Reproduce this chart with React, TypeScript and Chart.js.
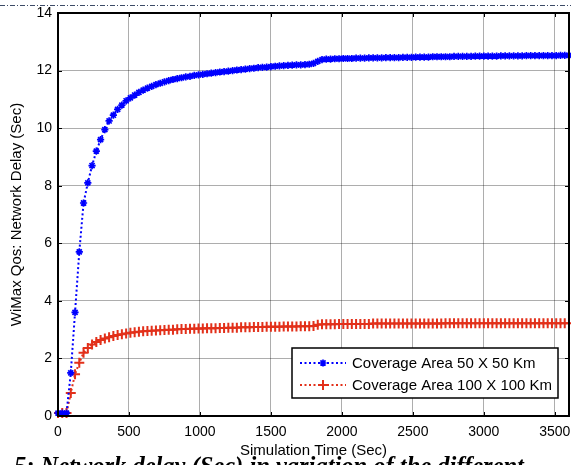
import React, { useEffect, useRef } from "react";
import { Chart, registerables } from "chart.js";

Chart.register(...registerables);

// Simulation time samples (sec)
const timeStepSec = 30;
const sampleCount = 121;
const times: number[] = Array.from({ length: sampleCount }, (_, i) => i * timeStepSec);

const xTickValues: number[] = [0, 500, 1000, 1500, 2000, 2500, 3000, 3500];
const yTickValues: number[] = [0, 2, 4, 6, 8, 10, 12, 14];
const xMax = 3600;
const yMax = 14;

const blueLabel = "Coverage Area 50 X 50 Km";
const redLabel = "Coverage Area 100 X 100 Km";

// WiMax network delay (sec), coverage 50 x 50 km
const blueValues: number[] = [
  0.1, 0.1, 0.1, 1.5, 3.6, 5.7, 7.4, 8.1, 8.7, 9.2,
  9.6, 9.95, 10.25, 10.45, 10.65, 10.8, 10.95, 11.05, 11.15, 11.24,
  11.32, 11.39, 11.45, 11.51, 11.56, 11.61, 11.65, 11.69, 11.72, 11.75,
  11.78, 11.8, 11.83, 11.85, 11.87, 11.89, 11.91, 11.93, 11.95, 11.96,
  11.98, 12.0, 12.02, 12.03, 12.05, 12.07, 12.08, 12.1, 12.11, 12.12,
  12.14, 12.15, 12.16, 12.17, 12.18, 12.19, 12.2, 12.2, 12.21, 12.22,
  12.25, 12.32, 12.38, 12.4, 12.4, 12.41, 12.41, 12.42, 12.42, 12.42,
  12.43, 12.43, 12.43, 12.44, 12.44, 12.44, 12.44, 12.45, 12.45, 12.45,
  12.45, 12.46, 12.46, 12.46, 12.47, 12.47, 12.47, 12.47, 12.48, 12.48,
  12.48, 12.48, 12.48, 12.49, 12.49, 12.49, 12.49, 12.49, 12.5, 12.5,
  12.5, 12.5, 12.5, 12.5, 12.51, 12.51, 12.51, 12.51, 12.51, 12.51,
  12.52, 12.52, 12.52, 12.52, 12.52, 12.52, 12.52, 12.52, 12.53, 12.53,
  12.53,
];

// WiMax network delay (sec), coverage 100 x 100 km
const redValues: number[] = [
  0.1, 0.1, 0.1, 0.8, 1.45, 1.85, 2.2, 2.36, 2.48, 2.57,
  2.64, 2.69, 2.74, 2.78, 2.81, 2.84, 2.87, 2.89, 2.91, 2.93,
  2.94, 2.95, 2.96, 2.97, 2.98, 2.99, 3.0, 3.0, 3.01, 3.02,
  3.02, 3.03, 3.03, 3.04, 3.04, 3.05, 3.05, 3.05, 3.06, 3.06,
  3.07, 3.07, 3.07, 3.08, 3.08, 3.08, 3.09, 3.09, 3.09, 3.1,
  3.1, 3.1, 3.1, 3.11, 3.11, 3.11, 3.11, 3.12, 3.12, 3.12,
  3.13, 3.17, 3.19, 3.19, 3.19, 3.19, 3.2, 3.2, 3.2, 3.2,
  3.2, 3.2, 3.2, 3.2, 3.21, 3.21, 3.21, 3.21, 3.21, 3.21,
  3.21, 3.21, 3.21, 3.21, 3.21, 3.21, 3.21, 3.21, 3.21, 3.21,
  3.21, 3.22, 3.22, 3.22, 3.22, 3.22, 3.22, 3.22, 3.22, 3.22,
  3.22, 3.22, 3.22, 3.22, 3.22, 3.22, 3.22, 3.22, 3.22, 3.22,
  3.22, 3.22, 3.22, 3.22, 3.22, 3.22, 3.22, 3.22, 3.22, 3.22,
  3.22,
];

const captionText = "5: Network delay (Sec) in variation of the different";

const W = 571;
const H = 465;
const sans = "'Liberation Sans', Arial, sans-serif";

function drawMarker(ctx: CanvasRenderingContext2D, style: string, x: number, y: number, r: number, color: string, w: number) {
  ctx.save();
  ctx.strokeStyle = color;
  ctx.lineWidth = w;
  ctx.beginPath();
  if (style === "cross" || style === "star") {
    ctx.moveTo(x - r, y);
    ctx.lineTo(x + r, y);
    ctx.moveTo(x, y - r);
    ctx.lineTo(x, y + r);
  }
  if (style === "crossRot" || style === "star") {
    const d = r * Math.SQRT1_2;
    ctx.moveTo(x - d, y - d);
    ctx.lineTo(x + d, y + d);
    ctx.moveTo(x - d, y + d);
    ctx.lineTo(x + d, y - d);
  }
  ctx.stroke();
  ctx.restore();
}

const frame = {
  id: "matlabFrame",
  afterDraw(chart: any) {
    const { ctx, chartArea: a, scales } = chart;
    ctx.save();
    // document rule at the very top
    ctx.strokeStyle = "#3c4a66";
    ctx.lineWidth = 1;
    ctx.setLineDash([5, 2, 1, 2]);
    ctx.beginPath();
    ctx.moveTo(0, 5.5);
    ctx.lineTo(W, 5.5);
    ctx.stroke();
    ctx.setLineDash([]);

    // inward tick marks
    ctx.strokeStyle = "#000";
    ctx.lineWidth = 1;
    const tl = 4;
    scales.x.ticks.forEach((t: any) => {
      const px = Math.round(scales.x.getPixelForValue(t.value)) + 0.5;
      ctx.beginPath();
      ctx.moveTo(px, a.bottom);
      ctx.lineTo(px, a.bottom - tl);
      ctx.moveTo(px, a.top);
      ctx.lineTo(px, a.top + tl);
      ctx.stroke();
    });
    scales.y.ticks.forEach((t: any) => {
      const py = Math.round(scales.y.getPixelForValue(t.value)) + 0.5;
      ctx.beginPath();
      ctx.moveTo(a.left, py);
      ctx.lineTo(a.left + tl, py);
      ctx.moveTo(a.right, py);
      ctx.lineTo(a.right - tl, py);
      ctx.stroke();
    });

    // box
    ctx.lineWidth = 2;
    ctx.strokeRect(a.left, a.top, a.right - a.left, a.bottom - a.top);

    // legend
    const lx = 292, ly = 348, lw = 266, lh = 50;
    ctx.fillStyle = "#fff";
    ctx.fillRect(lx, ly, lw, lh);
    ctx.lineWidth = 1.5;
    ctx.strokeStyle = "#000";
    ctx.strokeRect(lx, ly, lw, lh);
    ctx.font = `15px ${sans}`;
    ctx.textBaseline = "middle";
    ctx.textAlign = "left";
    chart.data.datasets.forEach((ds: any, i: number) => {
      const cy = ly + 15 + i * 22;
      ctx.strokeStyle = ds.borderColor;
      ctx.lineWidth = ds.borderWidth;
      ctx.setLineDash(ds.borderDash);
      ctx.beginPath();
      ctx.moveTo(lx + 8, cy);
      ctx.lineTo(lx + 54, cy);
      ctx.stroke();
      ctx.setLineDash([]);
      drawMarker(ctx, ds.pointStyle, lx + 31, cy, ds.pointRadius, ds.borderColor, ds.pointBorderWidth);
      ctx.fillStyle = "#000";
      ctx.fillText(ds.label, lx + 60, cy + 1);
    });
    ctx.restore();
  },
};

const noPadding = () => ({ left: 0, top: 0, right: 0, bottom: 0 });

export default function App() {
  const ref = useRef<HTMLCanvasElement | null>(null);

  useEffect(() => {
    if (!ref.current) return;
    const blue = "#0000ff";
    const red = "#e2301a";
    const chart = new Chart(ref.current, {
      type: "line",
      data: {
        datasets: [
          {
            label: blueLabel,
            data: times.map((t, i) => ({ x: t, y: blueValues[i] })),
            borderColor: blue,
            backgroundColor: blue,
            borderWidth: 2,
            borderDash: [2, 2.5],
            pointStyle: "star",
            pointRadius: 3.6,
            pointBorderWidth: 1.7,
            pointBorderColor: blue,
            pointBackgroundColor: blue,
            fill: false,
            tension: 0,
            clip: 4,
          },
          {
            label: redLabel,
            data: times.map((t, i) => ({ x: t, y: redValues[i] })),
            borderColor: red,
            backgroundColor: red,
            borderWidth: 2,
            borderDash: [2, 2.5],
            pointStyle: "cross",
            pointRadius: 5,
            pointBorderWidth: 2,
            pointBorderColor: red,
            pointBackgroundColor: red,
            fill: false,
            tension: 0,
            clip: 4,
          },
        ] as any,
      },
      options: {
        animation: false,
        responsive: false,
        devicePixelRatio: 1,
        layout: { autoPadding: false, padding: { top: 13, right: 2, left: 0, bottom: 0 } },
        plugins: { legend: { display: false }, tooltip: { enabled: false } },
        scales: {
          x: {
            type: "linear",
            min: 0,
            max: xMax,
            afterBuildTicks: (s: any) => {
              s.ticks = xTickValues.map((v) => ({ value: v }));
            },
            ticks: {
              autoSkip: false,
              maxRotation: 0,
              color: "#000",
              padding: 8,
              font: { family: sans, size: 14 },
              callback: (v: any) => String(v),
            },
            grid: { color: "rgba(0,0,0,0.32)", lineWidth: 1, drawTicks: false },
            border: { display: true, color: "#000", width: 2 },
            title: {
              display: true,
              text: "Simulation Time (Sec)",
              color: "#000",
              font: { family: sans, size: 15 },
              padding: { top: 0, bottom: 5 },
            },
            afterFit: (s: any) => {
              s.height = 49;
              s.paddingLeft = 0;
              s.paddingRight = 0;
              s.getPadding = noPadding;
            },
          },
          y: {
            type: "linear",
            min: 0,
            max: yMax,
            afterBuildTicks: (s: any) => {
              s.ticks = yTickValues.map((v) => ({ value: v }));
            },
            ticks: {
              color: "#000",
              padding: 6,
              font: { family: sans, size: 14 },
              callback: (v: any) => String(v),
            },
            grid: { color: "rgba(0,0,0,0.32)", lineWidth: 1, drawTicks: false },
            border: { display: true, color: "#000", width: 2 },
            title: {
              display: true,
              text: "WiMax Qos: Network Delay (Sec)",
              color: "#000",
              font: { family: sans, size: 15 },
              padding: { top: 8, bottom: 0 },
            },
            afterFit: (s: any) => {
              s.width = 58;
              s.paddingTop = 0;
              s.paddingBottom = 0;
              s.getPadding = noPadding;
            },
          },
        },
      } as any,
      plugins: [frame],
    });
    return () => chart.destroy();
  }, []);

  return (
    <div
      style={{
        position: "absolute",
        left: 0,
        top: 0,
        width: W,
        height: H,
        overflow: "hidden",
        background: "#fff",
      }}
    >
      <canvas ref={ref} width={W} height={H} style={{ display: "block", width: W, height: H }} />
      <div
        style={{
          position: "absolute",
          left: 14,
          top: 454,
          whiteSpace: "nowrap",
          fontFamily: "'Liberation Serif', 'Times New Roman', serif",
          fontWeight: "bold",
          fontStyle: "italic",
          fontSize: 24.5,
          lineHeight: "24px",
          color: "#000",
        }}
      >
        {captionText}
      </div>
    </div>
  );
}
